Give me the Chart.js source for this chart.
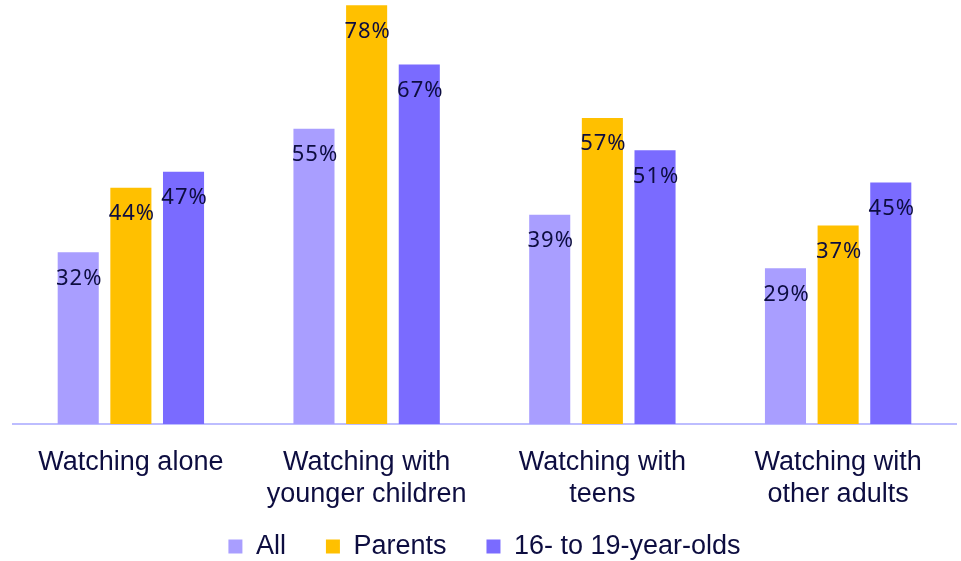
<!DOCTYPE html>
<html>
<head>
<meta charset="utf-8">
<script src="https://cdn.jsdelivr.net/npm/chart.js@4"></script>
<style>
    html, body { margin: 0; padding: 0; background: #ffffff; }
    #box { width: 961px; height: 561px; }
</style>
</head>
<body>
<div id="box"><canvas id="chartVisto"></canvas></div>
<script>
var categorias = [
    ['Watching alone'],
    ['Watching with', 'younger children'],
    ['Watching with', 'teens'],
    ['Watching with', 'other adults']
];
var series = ['All', 'Parents', '16- to 19-year-olds'];
var valoresAll = [32, 55, 39, 29];
var valoresParents = [44, 78, 57, 37];
var valoresTeens = [47, 67, 51, 45];

var corAll = '#a99eff';
var corParents = '#ffc000';
var corTeens = '#7a6bff';
var corTexto = '#0d0d40';
var corEixo = '#bdbdff';

//Rótulos de valor dentro das barras
const rotulos = {
    id: 'rotulos',
    afterLayout: (chart) => {
        // o eixo x fica mais baixo que a legenda, sem cortar a segunda linha
        chart.scales.x.bottom = chart.height;
    },
    afterDatasetsDraw: (chart) => {
        const ctx = chart.ctx;
        ctx.save();
        ctx.font = '22px "Noto Sans"';
        ctx.letterSpacing = '1px';
        ctx.fillStyle = corTexto;
        ctx.textAlign = 'center';
        ctx.textBaseline = 'middle';
        chart.data.datasets.forEach((ds, i) => {
            chart.getDatasetMeta(i).data.forEach((bar, j) => {
                ctx.fillText(ds.data[j] + '%', bar.x + 1, bar.y + 26);
            });
        });
        ctx.restore();
    }
};

const desenhar = () => {
    let ctx = document.getElementById('chartVisto').getContext('2d');
    let chart = new Chart(ctx, {
        type: 'bar',
        data: {
            labels: categorias,
            datasets: [
                { label: series[0], data: valoresAll, backgroundColor: corAll },
                { label: series[1], data: valoresParents, backgroundColor: corParents },
                { label: series[2], data: valoresTeens, backgroundColor: corTeens }
            ]
        },
        options: {
            responsive: true,
            maintainAspectRatio: false,
            animation: false,
            categoryPercentage: 0.67,
            barPercentage: 0.78,
            layout: {
                padding: { top: 0, left: 13, right: 5, bottom: -9 }
            },
            scales: {
                x: {
                    grid: { display: false },
                    border: { display: true, color: corEixo, width: 2 },
                    ticks: {
                        color: corTexto,
                        font: { family: '"Liberation Sans", Arial', size: 27, lineHeight: 1.19 },
                        padding: 14,
                        maxRotation: 0,
                        autoSkip: false
                    },
                    afterFit: (eixo) => {
                        eixo.height = 69;
                    }
                },
                y: {
                    display: false,
                    min: 0,
                    max: 79
                }
            },
            plugins: {
                legend: {
                    position: 'bottom',
                    labels: {
                        color: corTexto,
                        font: { family: '"Liberation Sans", Arial', size: 27 },
                        boxWidth: 14,
                        boxHeight: 14,
                        padding: 40
                    }
                },
                tooltip: { enabled: false }
            }
        },
        plugins: [rotulos]
    });
}

desenhar();
</script>
</body>
</html>
